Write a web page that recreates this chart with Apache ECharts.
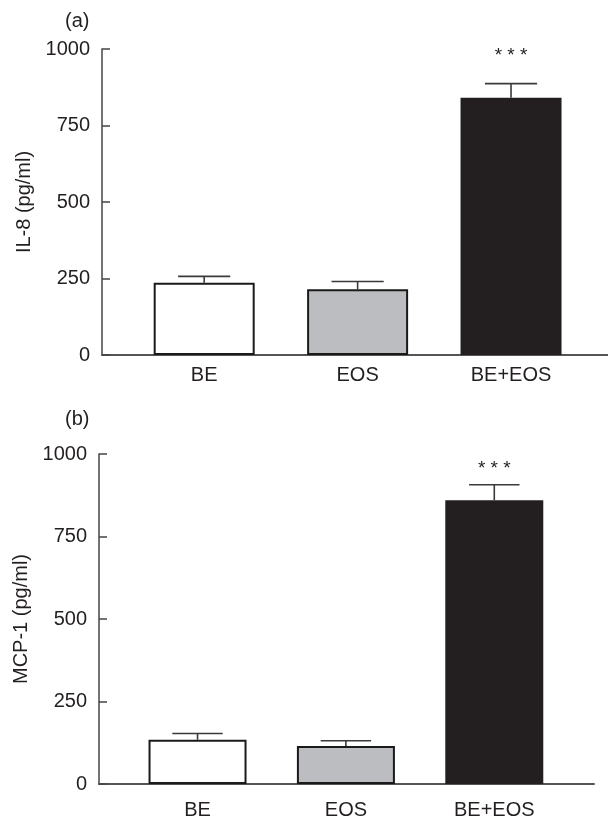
<!DOCTYPE html>
<html>
<head>
<meta charset="utf-8">
<title></title>
<script src="https://cdn.jsdelivr.net/npm/echarts@6/dist/echarts.min.js"></script>
<style>
  html, body { margin: 0; padding: 0; background: #fff; }
  #chart { width: 608px; height: 820px; }
</style>
</head>
<body>
<div id="chart"></div>
<script>
// data
var categories = ['BE', 'EOS', 'BE+EOS'];
var il8Mean = [236, 215, 841];
var il8Err = [21, 25, 46];
var mcp1Mean = [134, 115, 860];
var mcp1Err = [19, 16, 47];
var sigMarks = ['', '', '* * *'];
var yTicks = [0, 250, 500, 750, 1000];

var barColors = ['#ffffff', '#bcbdc0', '#231f20'];
var ink = '#231f20';
var font = 'Liberation Sans, Arial, Helvetica, sans-serif';

function barData(means) {
  var out = [];
  for (var i = 0; i < means.length; i++) {
    out.push({
      value: [i + 1, means[i]],
      itemStyle: { color: barColors[i], borderColor: i == 2 ? barColors[i] : '#1a1a1a', borderWidth: 2 }
    });
  }
  return out;
}

function errData(means, errs) {
  var out = [];
  for (var i = 0; i < means.length; i++) {
    out.push([i + 1, means[i], means[i] + errs[i], i]);
  }
  return out;
}

// error bar + significance stars
function errRenderer(starGap) {
  return function (params, api) {
    var x = api.value(0);
    var base = api.coord([x, api.value(1)]);
    var top = api.coord([x, api.value(2)]);
    var half = api.size([1, 0])[0] * 0.17;
    var st = { stroke: '#3a3a3a', lineWidth: 1.6 };
    var kids = [
      { type: 'line', shape: { x1: base[0], y1: base[1], x2: top[0], y2: top[1] }, style: st },
      { type: 'line', shape: { x1: top[0] - half, y1: top[1], x2: top[0] + half, y2: top[1] }, style: st }
    ];
    var mark = sigMarks[api.value(3)];
    if (mark) {
      kids.push({
        type: 'text',
        style: {
          text: mark, x: top[0], y: top[1] - starGap,
          align: 'center', verticalAlign: 'middle',
          font: '19px ' + font, fill: ink
        }
      });
    }
    return { type: 'group', children: kids };
  };
}

function yAxisFor(gridIndex, name) {
  return {
    type: 'value', gridIndex: gridIndex, min: 0, max: 1000, interval: 250,
    name: name, nameLocation: 'middle', nameGap: 66,
    nameTextStyle: { fontSize: 20, color: ink, fontFamily: font },
    axisLine: { show: true, lineStyle: { color: '#444', width: 1.5 } },
    axisTick: { show: true, inside: true, length: 8, lineStyle: { color: '#444', width: 1.5 } },
    axisLabel: {
      fontSize: 20, color: ink, fontFamily: font, margin: 12,
      formatter: function (v) { return String(v); }
    },
    splitLine: { show: false }
  };
}

function xAxisFor(gridIndex, min, max, margin) {
  return {
    type: 'value', gridIndex: gridIndex, min: min, max: max,
    axisLine: { show: true, onZero: false, lineStyle: { color: '#555', width: 2 } },
    axisTick: { show: false },
    splitLine: { show: false },
    axisLabel: {
      customValues: [1, 2, 3],
      fontSize: 20, color: ink, fontFamily: font, margin: margin,
      formatter: function (v) { return categories[Math.round(v) - 1]; }
    }
  };
}

var myChart = echarts.init(document.getElementById('chart'), null, { renderer: 'canvas' });
myChart.setOption({
  animation: false,
  backgroundColor: '#fff',
  title: [
    { text: '(a)', left: 60, top: 6, textStyle: { fontSize: 20, fontWeight: 'normal', color: ink, fontFamily: font } },
    { text: '(b)', left: 60, top: 404, textStyle: { fontSize: 20, fontWeight: 'normal', color: ink, fontFamily: font } }
  ],
  grid: [
    { left: 102, top: 49, width: 506, height: 306 },
    { left: 99, top: 454, width: 495, height: 330 }
  ],
  xAxis: [
    xAxisFor(0, 0.334, 3.632, 10),
    xAxisFor(1, 0.336, 3.672, 16)
  ],
  yAxis: [
    yAxisFor(0, 'IL-8 (pg/ml)'),
    yAxisFor(1, 'MCP-1 (pg/ml)')
  ],
  series: [
    { type: 'bar', xAxisIndex: 0, yAxisIndex: 0, barWidth: 101, data: barData(il8Mean) },
    { type: 'custom', xAxisIndex: 0, yAxisIndex: 0, renderItem: errRenderer(28), data: errData(il8Mean, il8Err), z: 3 },
    { type: 'bar', xAxisIndex: 1, yAxisIndex: 1, barWidth: 98, data: barData(mcp1Mean) },
    { type: 'custom', xAxisIndex: 1, yAxisIndex: 1, renderItem: errRenderer(16), data: errData(mcp1Mean, mcp1Err), z: 3 }
  ]
});
</script>
</body>
</html>
